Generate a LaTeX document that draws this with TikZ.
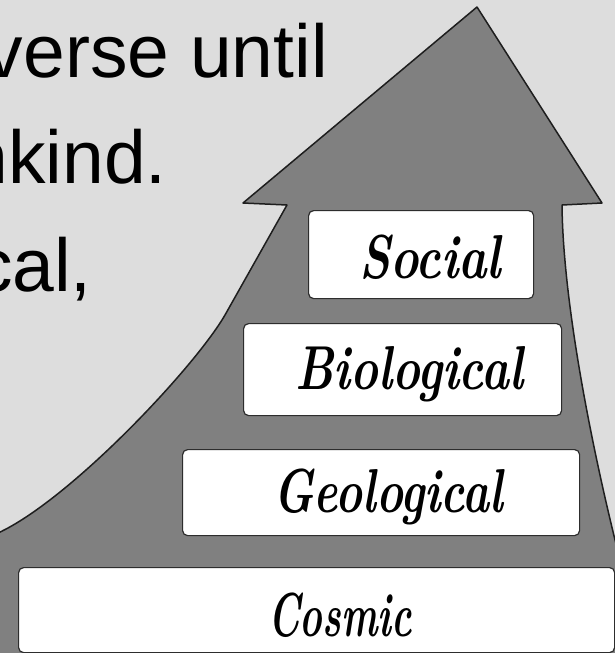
\documentclass[tikz,border=0pt]{standalone}
\usepackage{fontspec}
\newfontfamily\sansA{Liberation Sans}
\definecolor{bg}{RGB}{221,221,221}
\definecolor{arrowgray}{RGB}{128,128,128}
\definecolor{edge}{RGB}{30,30,30}
\definecolor{boxedge}{RGB}{45,45,45}
\begin{document}
\begin{tikzpicture}[x=1pt,y=-1pt,
  layerbox/.style={draw=boxedge, line width=1.2pt, fill=white, rounded corners=5pt, inner sep=0pt, anchor=north west},
  layertext/.style={anchor=base, inner sep=0pt, font=\fontsize{62}{62}\selectfont\bfseries\itshape},
  bodytext/.style={anchor=base east, inner sep=0pt, font=\sansA\fontsize{75}{75}\selectfont}]
\useasboundingbox (0,0) rectangle (615,653);
\fill[bg] (0,0) rectangle (615,653);
\begin{scope}
\clip (0,0) rectangle (615,653);
\node[bodytext] (line1) at (328,77) {verse until};
\node[bodytext] (line2) at (167,183) {nkind.};
\node[bodytext] (line3) at (92,291) {cal,};
\draw[fill=arrowgray, draw=edge, line width=1.5pt, line join=round]
  (-2,533) .. controls (70,500) and (195,367) .. (225,315) -- (287,205) -- (243,203)
  -- (477,7) -- (602,203) -- (562,205) .. controls (563,300) and (590,440) .. (618,552)
  -- (618,656) -- (-2,656) -- cycle;
\node[layerbox, minimum width=225pt, minimum height=88pt] (socialbox) at (308,210) {};
\node[layerbox, minimum width=318pt, minimum height=92pt] (biobox) at (243,323) {};
\node[layerbox, minimum width=397pt, minimum height=86pt] (geobox) at (182,449) {};
\node[layerbox, minimum width=596pt, minimum height=85pt] (cosmicbox) at (18,567) {};
\node[layertext] (social) at (430,278) {\resizebox{142pt}{\height}{Social}};
\node[layertext] (bio) at (409,389) {\resizebox{228pt}{\height}{Biological}};
\node[layertext] (geo) at (388,512) {\resizebox{230pt}{\height}{Geological}};
\node[layertext] (cosmic) at (340,636) {\resizebox{144pt}{\height}{Cosmic}};
\end{scope}
\end{tikzpicture}
\end{document}
